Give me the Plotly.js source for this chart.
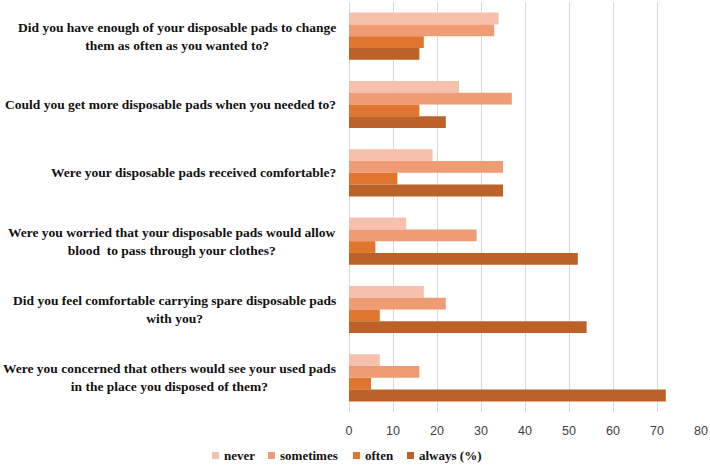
<!DOCTYPE html>
<html>
<head>
<meta charset="utf-8">
<script src="https://cdn.plot.ly/plotly-3.0.1.min.js"></script>
<style>html,body{margin:0;padding:0;background:#fff;} #chart{width:710px;height:465px;}</style>
</head>
<body>
<div id="chart"></div>
<script>
const questions = [
  "Did you have enough of your disposable pads to change<br>them as often as you wanted to?",
  "Could you get more disposable pads when you needed to?",
  "Were your disposable pads received comfortable?",
  "Were you worried that your disposable pads would allow<br>blood  to pass through your clothes?",
  "Did you feel comfortable carrying spare disposable pads<br>with you?",
  "Were you concerned that others would see your used pads<br>in the place you disposed of them?"
];
const never = [34, 25, 19, 13, 17, 7];
const sometimes = [33, 37, 35, 29, 22, 16];
const often = [17, 16, 11, 6, 7, 5];
const always = [16, 22, 35, 52, 54, 72];
const seriesNames = ["never", "sometimes", "often", "always (%)"];
const seriesColors = ["#F5C1AD", "#EF9B74", "#E0762E", "#BC6127"];
const seriesValues = [never, sometimes, often, always];

// layout geometry (pixels)
const W = 710, H = 465;
const M = {l: 349, r: 9, t: 2, b: 53};
const plotW = W - M.l - M.r, plotH = H - M.t - M.b;
const px2x = p => (p - M.l) / plotW;
const py2y = p => (H - M.b - p) / plotH;
const legendMarkerX = [212, 268, 353, 407];
const legendY = 455.5;

const serif = 'Liberation Serif, Times New Roman, serif';

const traces = seriesValues.map((vals, i) => ({
  type: 'bar', orientation: 'h', name: seriesNames[i],
  y: questions, x: vals,
  marker: {color: seriesColors[i]},
  hoverinfo: 'x+name'
}));

const annotations = questions.map(q => ({
  xref: 'paper', yref: 'y', x: 0, y: q, xanchor: 'right', yanchor: 'middle',
  xshift: -11, align: 'center', showarrow: false, text: q,
  font: {family: serif, size: 13.5, color: '#111', weight: 'bold'}
}));
const shapes = [];
seriesNames.forEach((n, i) => {
  const x0 = legendMarkerX[i];
  shapes.push({
    type: 'rect', xref: 'paper', yref: 'paper',
    x0: px2x(x0), x1: px2x(x0 + 7), y0: py2y(legendY + 3.5), y1: py2y(legendY - 3.5),
    fillcolor: seriesColors[i], line: {width: 0}
  });
  annotations.push({
    xref: 'paper', yref: 'paper', x: px2x(x0 + 10), y: py2y(legendY),
    xanchor: 'left', yanchor: 'middle', showarrow: false, text: n,
    font: {family: serif, size: 13, color: '#111', weight: 'bold'}
  });
});

const layout = {
  width: W, height: H,
  margin: {l: M.l, r: M.r, t: M.t, b: M.b, autoexpand: false},
  paper_bgcolor: '#fff', plot_bgcolor: '#fff',
  barmode: 'group', bargap: 0.31, bargroupgap: 0,
  xaxis: {
    range: [0, 80], dtick: 10, tick0: 0,
    showgrid: true, gridcolor: '#d9d9d9', gridwidth: 1,
    zeroline: true, zerolinecolor: '#d9d9d9', zerolinewidth: 1,
    showline: false, ticks: '', ticklabelstandoff: 9,
    tickfont: {family: 'Liberation Sans, Arial, sans-serif', size: 12.5, color: '#404040'}
  },
  yaxis: {
    autorange: 'reversed', showgrid: false, zeroline: false, showline: false,
    ticks: '', showticklabels: false
  },
  showlegend: false,
  annotations: annotations,
  shapes: shapes
};

Plotly.newPlot('chart', traces, layout, {displayModeBar: false, staticPlot: true});
</script>
</body>
</html>
